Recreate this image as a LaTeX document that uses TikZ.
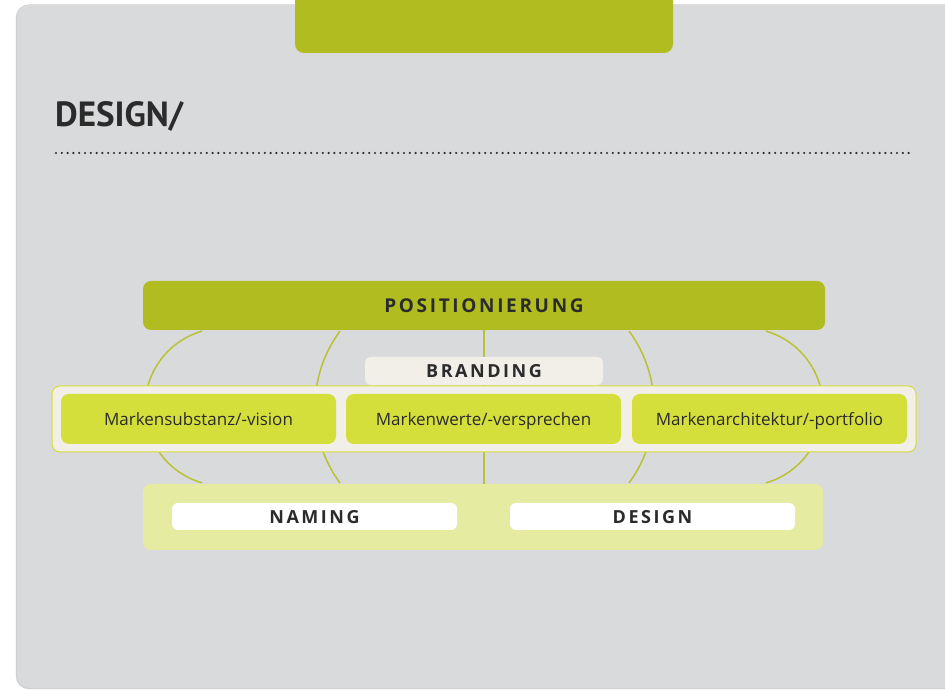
\documentclass[tikz,border=0pt]{standalone}
\usepackage{fontspec}
\setmainfont{Open Sans}
\newfontfamily\ttlfont{PT Sans}
\newfontfamily\spcfont[LetterSpace=14]{Open Sans}
\definecolor{panelgray}{HTML}{D9DADC}
\definecolor{shadowgray}{HTML}{D0D0D2}
\definecolor{olive}{HTML}{B0BC1F}
\definecolor{lime}{HTML}{D5DF3C}
\definecolor{cream}{HTML}{F1EFE8}
\definecolor{pale}{HTML}{E6EBA2}
\definecolor{arcol}{HTML}{B9C232}
\definecolor{txt}{HTML}{2B2B2B}
\tikzset{
  box/.style={rectangle, rounded corners=8pt, inner sep=0pt, outer sep=0pt},
  capslabel/.style={font=\spcfont\bfseries\fontsize{19}{22}\selectfont, text=txt},
  smallcaps/.style={font=\spcfont\bfseries\fontsize{18}{21}\selectfont, text=txt, text height=14pt, text depth=0.5pt},
  itemlabel/.style={font=\fontsize{17}{20}\selectfont, text=txt, text height=14pt, text depth=1.5pt},
  arcline/.style={draw=arcol, line width=1.5pt},
}
\begin{document}
\begin{tikzpicture}[x=1pt,y=1pt]
\useasboundingbox (0,0) rectangle (945,690);
\fill[white] (0,0) rectangle (945,690);
% panel
\fill[shadowgray, rounded corners=13pt] (15.8,0.8) rectangle (990,685.5);
\fill[panelgray, rounded corners=12pt] (17,2) rectangle (990,685);
% tab
\fill[olive, rounded corners=9pt] (295,637) rectangle (673,720);
% title
\node[anchor=base west, inner sep=0pt, text=txt, font=\ttlfont\bfseries\fontsize{35}{40}\selectfont] (title) at (55,563) {DESIGN/};
% dotted rule
\coordinate (dotL) at (56,537);
\coordinate (dotR) at (913,537);
\draw[txt, line width=2.4pt, line cap=round, dash pattern=on 0pt off 5.8pt] (dotL) -- (dotR);
% arcs
\draw[arcline] (224,283) ++(106:79) arc[start angle=106, end angle=254, radius=79];
\draw[arcline] (744,283) ++(-74:79) arc[start angle=-74, end angle=74, radius=79];
\draw[arcline] (443,283) ++(143.6:128) arc[start angle=143.6, end angle=216.4, radius=128];
\draw[arcline] (526,283) ++(-36.4:128) arc[start angle=-36.4, end angle=36.4, radius=128];
% boxes
\node[box, fill=olive, minimum width=682pt, minimum height=49pt, capslabel] (posit) at (484,384.5) {POSITIONIERUNG};
\node[box, fill=pale, minimum width=680pt, minimum height=66pt] (ndbox) at (483,173) {};
\draw[arcline] (posit.south) -- (posit.south |- ndbox.north);
\node[box, fill=cream, rounded corners=6pt, minimum width=238pt, minimum height=28pt, smallcaps] (branding) at (484,319) {BRANDING};
\node[box, fill=cream, draw=lime, line width=1pt, minimum width=864pt, minimum height=66pt] (row) at (484,271) {};
\node[box, fill=lime, minimum width=275pt, minimum height=50pt, itemlabel] (m1) at (198.5,271) {Markensubstanz/-vision};
\node[box, fill=lime, minimum width=275pt, minimum height=50pt, itemlabel] (m2) at (483.5,271) {Markenwerte/-versprechen};
\node[box, fill=lime, minimum width=275pt, minimum height=50pt, itemlabel] (m3) at (769.5,271) {Markenarchitektur/-portfolio};
\node[box, fill=white, rounded corners=6pt, minimum width=285pt, minimum height=27pt, smallcaps] (naming) at (314.5,173.5) {NAMING};
\node[box, fill=white, rounded corners=6pt, minimum width=285pt, minimum height=27pt, smallcaps] (design) at (652.5,173.5) {DESIGN};
\end{tikzpicture}
\end{document}
